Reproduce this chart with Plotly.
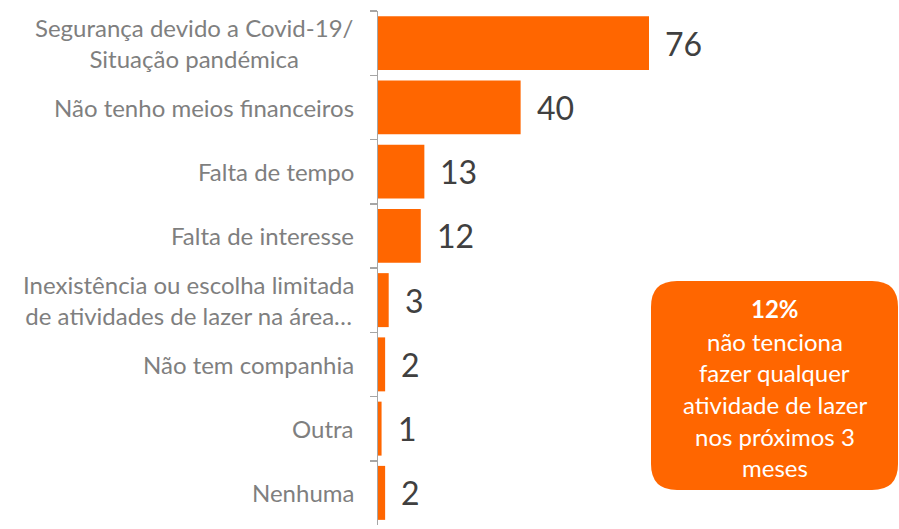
import plotly.graph_objects as go

categories = [
    "Segurança devido a Covid-19/<br>Situação pandémica",
    "Não tenho meios financeiros",
    "Falta de tempo",
    "Falta de interesse",
    "Inexistência ou escolha limitada<br>de atividades de lazer na área…",
    "Não tem companhia",
    "Outra",
    "Nenhuma",
]
values = [76, 40, 13, 12, 3, 2, 1, 2]
box_lines = ["<b>12%</b>", "não tenciona", "fazer qualquer", "atividade de lazer", "nos próximos 3", "meses"]

ORANGE = "#FF6600"
W, H = 899, 529
ML, MR, MT, MB = 378, 1, 11, 4
PW, PH = W - ML - MR, H - MT - MB
px_per_unit = 271 / 76
xmax = PW / px_per_unit

fig = go.Figure(go.Bar(
    x=values, y=categories, orientation="h",
    marker=dict(color=ORANGE, line=dict(width=0)),
    hoverinfo="skip",
))

ann = []
for c, v in zip(categories, values):
    ann.append(dict(x=v, y=c, xref="x", yref="y", text=str(v), showarrow=False,
                    xanchor="left", yanchor="middle", xshift=14,
                    font=dict(family="Lato", size=32, color="#404040")))
    ann.append(dict(x=0, y=c, xref="paper", yref="y", text=c, showarrow=False,
                    xanchor="right", yanchor="middle", align="center", xshift=-22,
                    font=dict(family="Lato", size=24, color="#7F7F7F")))

# page pixel -> paper coords
def px2x(px):
    return (px - ML) / PW
def py2y(py):
    return (H - MB - py) / PH

bx0, bx1, by0, by1 = 651, 898, 281, 490
r = 26
X0, X1 = px2x(bx0), px2x(bx1)
Y0, Y1 = py2y(by0), py2y(by1)
rx, ry = r / PW, r / PH
path = (f"M {X0+rx},{Y0} L {X1-rx},{Y0} Q {X1},{Y0} {X1},{Y0-ry} "
        f"L {X1},{Y1+ry} Q {X1},{Y1} {X1-rx},{Y1} L {X0+rx},{Y1} "
        f"Q {X0},{Y1} {X0},{Y1+ry} L {X0},{Y0-ry} Q {X0},{Y0} {X0+rx},{Y0} Z")

line_y = [308, 342, 373, 405, 436, 467]
for t, ly in zip(box_lines, line_y):
    ann.append(dict(x=px2x((bx0 + bx1) / 2), y=py2y(ly), xref="paper", yref="paper",
                    text=t, showarrow=False, xanchor="center", yanchor="middle",
                    font=dict(family="Lato", size=24, color="white")))

fig.update_layout(
    width=W, height=H,
    margin=dict(l=ML, r=MR, t=MT, b=MB),
    plot_bgcolor="white", paper_bgcolor="white",
    bargap=0.16, showlegend=False,
    xaxis=dict(range=[0, xmax], visible=False, fixedrange=True),
    yaxis=dict(autorange="reversed", type="category", showticklabels=False,
               ticks="outside", tickson="boundaries", ticklen=7, tickcolor="#A6A6A6",
               tickwidth=1.5, showline=True, linecolor="#A6A6A6", linewidth=1.5,
               showgrid=False, zeroline=False, fixedrange=True),
    shapes=[dict(type="path", path=path, xref="paper", yref="paper",
                 fillcolor=ORANGE, line=dict(width=0), layer="above")],
    annotations=ann,
)

fig.write_html(
    "out.html",
    config={"displayModeBar": False, "staticPlot": True},
    post_script="document.body.style.margin='0';document.body.style.overflow='hidden';",
)
